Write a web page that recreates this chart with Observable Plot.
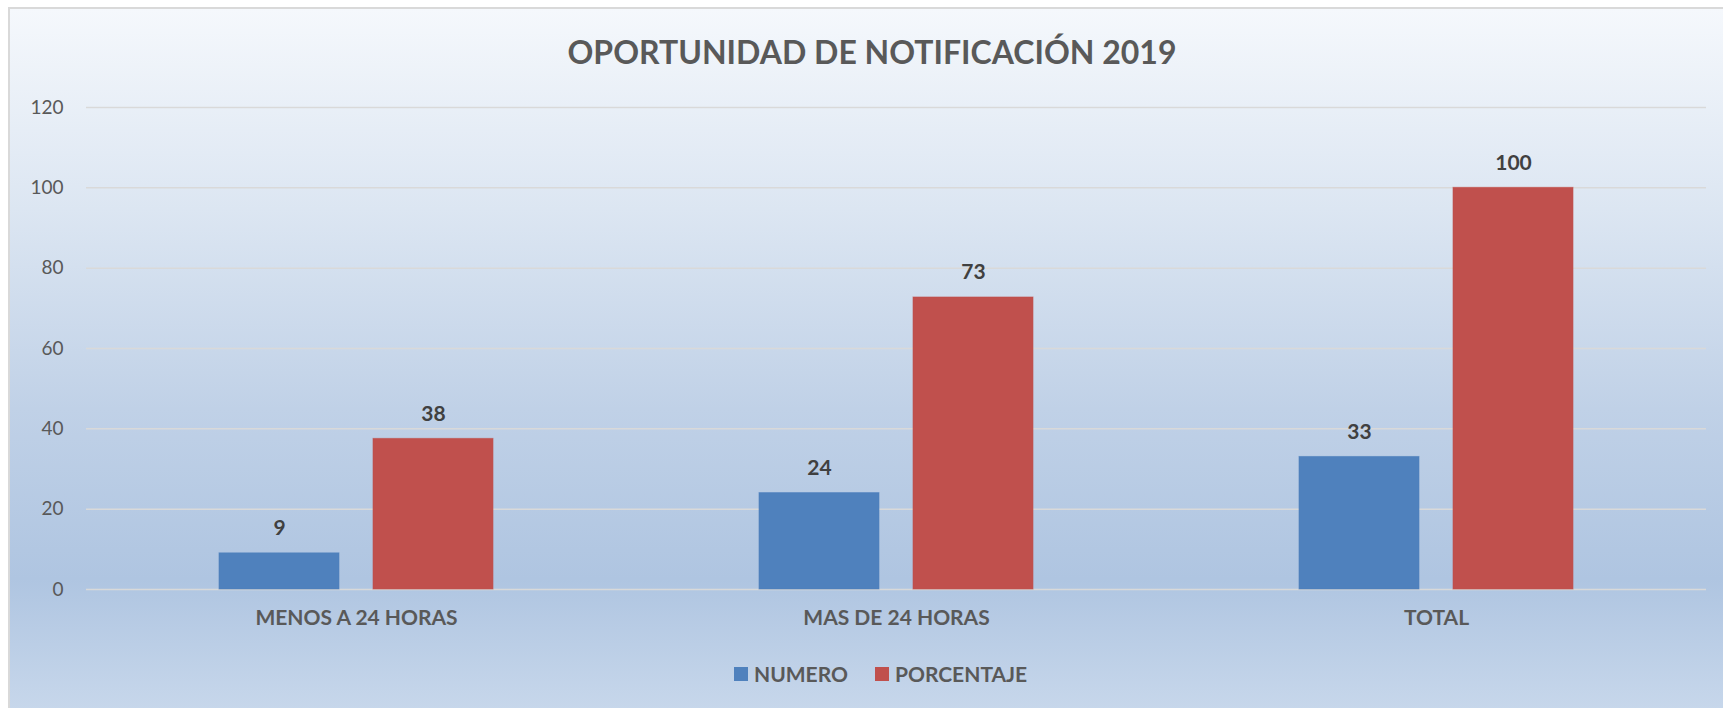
<!DOCTYPE html>
<html>
<head>
<meta charset="utf-8">
<script src="https://cdn.jsdelivr.net/npm/d3@7"></script>
<script src="https://cdn.jsdelivr.net/npm/@observablehq/plot@0.6"></script>
<style>
  html, body { margin: 0; padding: 0; width: 1723px; height: 708px; overflow: hidden; background: #ffffff; font-family: Lato, "Open Sans", sans-serif; }
  #card {
    position: absolute; left: 8px; top: 7px; width: 1740px; height: 720px;
    border-top: 2px solid #d9d9d9; border-left: 2px solid #d9d9d9; box-sizing: border-box;
    background: linear-gradient(to bottom, #f5f8fc 0px, #dce6f2 200px, #c0d1e7 400px, #afc5e1 570px, #c7d7eb 701px);
  }
  #title {
    position: absolute; left: 0; width: 1744px; top: 32px; text-align: center;
    font: bold 32px Lato, sans-serif; color: #595959; line-height: 40px;
  }
  #chart { position: absolute; left: 0; top: 0; }
  #legend {
    position: absolute; left: 734px; top: 662px; display: flex; align-items: center;
    font: bold 21px Lato, sans-serif; color: #595959; line-height: 24px;
  }
  .sw { width: 14px; height: 14px; display: inline-block; margin-right: 6px; }
  .item { display: flex; align-items: center; margin-right: 27px; }
</style>
</head>
<body>
<div id="card"></div>
<div id="title">OPORTUNIDAD DE NOTIFICACIÓN 2019</div>
<div id="chart"></div>
<div id="legend"></div>
<script>
const categories = ["MENOS A 24 HORAS", "MAS DE 24 HORAS", "TOTAL"];
const series = ["NUMERO", "PORCENTAJE"];
const numero = [9, 24, 33];
const porcentaje = [37.5, 72.7, 100];
const yTicks = [0, 20, 40, 60, 80, 100, 120];
const colors = ["#4f81bd", "#c0504d"];

const data = [];
categories.forEach((c, i) => {
  data.push({category: c, series: series[0], value: numero[i]});
  data.push({category: c, series: series[1], value: porcentaje[i]});
});

const chart = Plot.plot({
  width: 1723,
  height: 640,
  marginLeft: 86,
  marginRight: 17,
  marginTop: 107,
  marginBottom: 51,
  style: {background: "transparent", fontFamily: "Lato, sans-serif", overflow: "visible"},
  fx: {domain: categories, padding: 0, label: null},
  x: {domain: series, paddingInner: 0.2208, paddingOuter: 0.8636, axis: null},
  y: {domain: [0, 120], label: null},
  color: {domain: series, range: colors},
  marks: [
    Plot.gridY(yTicks, {stroke: "#d9d9d9", strokeOpacity: 1, strokeWidth: 1.5}),
    Plot.axisY(yTicks, {tickSize: 0, tickPadding: 23, fontSize: 19, fill: "#595959", label: null}),
    Plot.axisFx({anchor: "bottom", tickSize: 0, tickPadding: 21, fontSize: 21, fontWeight: "bold", fill: "#595959", label: null}),
    Plot.barY(data, {fx: "category", x: "series", y: "value", fill: "series", stroke: "series", strokeOpacity: 0.6}),
    Plot.text(data, {fx: "category", x: "series", y: "value", text: d => d3.format(".0f")(d.value), dy: -25, fontSize: 21, fontWeight: "bold", fill: "#404040"})
  ]
});
document.getElementById("chart").appendChild(chart);

const legend = d3.select("#legend");
series.forEach((s, i) => {
  const it = legend.append("div").attr("class", "item");
  it.append("span").attr("class", "sw").style("background", colors[i]);
  it.append("span").text(s);
});
</script>
</body>
</html>
